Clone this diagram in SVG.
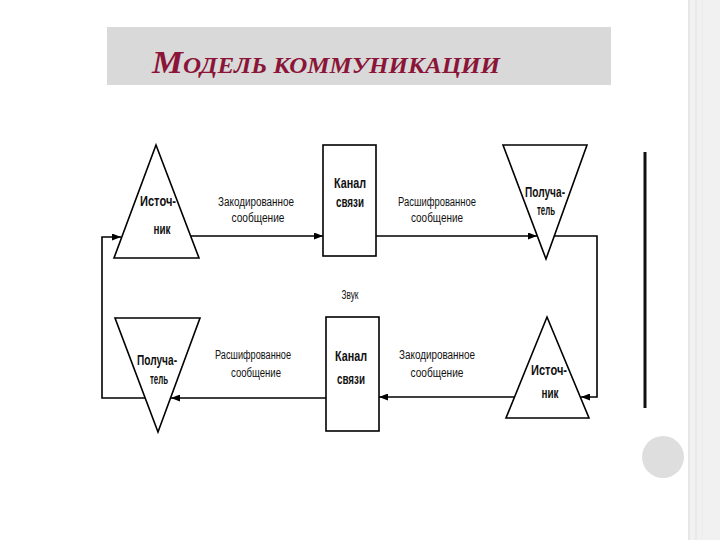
<svg xmlns="http://www.w3.org/2000/svg" width="720" height="540" viewBox="0 0 720 540">
<defs>
<marker id="ah" markerWidth="9" markerHeight="7" refX="9" refY="3.5" orient="auto" markerUnits="userSpaceOnUse">
<path d="M0,0 L9,3.5 L0,7 Z" fill="#000"/>
</marker>
<style>
.shape{fill:#fff;stroke:#000;stroke-width:1.6}
.conn{fill:none;stroke:#000;stroke-width:1.6}
.lbl{font-family:"Liberation Sans Narrow","Liberation Sans",Arial,sans-serif;font-size:12.5px;fill:#111;text-anchor:middle}
.nd{font-family:"Liberation Sans Narrow","Liberation Sans",Arial,sans-serif;font-size:14px;font-weight:bold;fill:#111;text-anchor:middle}
.title{font-family:"Liberation Serif","Times New Roman",serif;font-style:italic;font-weight:bold;fill:#8a1538}
</style>
</defs>
<rect x="0" y="0" width="720" height="540" fill="#fff"/>
<!-- right decorative stripes -->
<rect x="688" y="0" width="32" height="540" fill="#f1f1f1"/>
<line x1="689" y1="0" x2="689" y2="540" stroke="#e2e2e2" stroke-width="1.5"/>
<line x1="696" y1="0" x2="696" y2="540" stroke="#e6e6e6" stroke-width="1.5"/>
<line x1="702" y1="0" x2="702" y2="540" stroke="#ebebeb" stroke-width="1"/>
<circle cx="663" cy="457" r="21" fill="#dedede"/>
<line x1="645" y1="152" x2="645" y2="408" stroke="#111" stroke-width="3"/>
<!-- title -->
<g id="title">
<rect x="107" y="27" width="504" height="58" fill="#d9d9d9"/>
<text class="title" x="152" y="73" textLength="348" lengthAdjust="spacingAndGlyphs"><tspan font-size="32">М</tspan><tspan font-size="23">ОДЕЛЬ КОММУНИКАЦИИ</tspan></text>
</g>
<!-- connectors -->
<g id="connectors">
<line class="conn" x1="191" y1="236" x2="323" y2="236" marker-end="url(#ah)"/>
<line class="conn" x1="376" y1="236" x2="537" y2="236" marker-end="url(#ah)"/>
<path class="conn" d="M554,236 H597 V397 H581" marker-end="url(#ah)"/>
<line class="conn" x1="514" y1="397" x2="379" y2="397" marker-end="url(#ah)"/>
<line class="conn" x1="326" y1="398" x2="171" y2="398" marker-end="url(#ah)"/>
<path class="conn" d="M145,398 H102 V237 H121" marker-end="url(#ah)"/>
<text class="lbl" x="256" y="206" textLength="76" lengthAdjust="spacingAndGlyphs">Закодированное</text>
<text class="lbl" x="258" y="222" textLength="53" lengthAdjust="spacingAndGlyphs">сообщение</text>
<text class="lbl" x="437" y="206" textLength="78" lengthAdjust="spacingAndGlyphs">Расшифрованное</text>
<text class="lbl" x="437" y="222" textLength="52" lengthAdjust="spacingAndGlyphs">сообщение</text>
<text class="lbl" x="437" y="359" textLength="76" lengthAdjust="spacingAndGlyphs">Закодированное</text>
<text class="lbl" x="437" y="377" textLength="53" lengthAdjust="spacingAndGlyphs">сообщение</text>
<text class="lbl" x="253" y="359" textLength="76" lengthAdjust="spacingAndGlyphs">Расшифрованное</text>
<text class="lbl" x="256" y="377" textLength="50" lengthAdjust="spacingAndGlyphs">сообщение</text>
<text class="lbl" x="350" y="299" textLength="17" lengthAdjust="spacingAndGlyphs">Звук</text>
</g>
<!-- nodes -->
<g id="source1">
<polygon class="shape" points="156,145 199,258 114,258"/>
<text class="nd" x="158" y="206" textLength="36" lengthAdjust="spacingAndGlyphs">Источ-</text>
<text class="nd" x="162" y="234" textLength="17" lengthAdjust="spacingAndGlyphs">ник</text>
</g>
<g id="channel1">
<rect class="shape" x="323" y="145" width="53" height="111"/>
<text class="nd" x="350" y="188" textLength="32" lengthAdjust="spacingAndGlyphs">Канал</text>
<text class="nd" x="350" y="207" textLength="28" lengthAdjust="spacingAndGlyphs">связи</text>
</g>
<g id="receiver1">
<polygon class="shape" points="503,145 587,145 546,259"/>
<text class="nd" x="545" y="197" textLength="40" lengthAdjust="spacingAndGlyphs">Получа-</text>
<text class="nd" x="546" y="215" textLength="18" lengthAdjust="spacingAndGlyphs">тель</text>
</g>
<g id="receiver2">
<polygon class="shape" points="115,318 200,318 158,432"/>
<text class="nd" x="157" y="365" textLength="40" lengthAdjust="spacingAndGlyphs">Получа-</text>
<text class="nd" x="159" y="384" textLength="18" lengthAdjust="spacingAndGlyphs">тель</text>
</g>
<g id="channel2">
<rect class="shape" x="326" y="317" width="53" height="114"/>
<text class="nd" x="351" y="361" textLength="32" lengthAdjust="spacingAndGlyphs">Канал</text>
<text class="nd" x="351" y="384" textLength="28" lengthAdjust="spacingAndGlyphs">связи</text>
</g>
<g id="source2">
<polygon class="shape" points="547,317 589,418 506,418"/>
<text class="nd" x="549" y="375" textLength="36" lengthAdjust="spacingAndGlyphs">Источ-</text>
<text class="nd" x="550" y="398" textLength="17" lengthAdjust="spacingAndGlyphs">ник</text>
</g>
</svg>
